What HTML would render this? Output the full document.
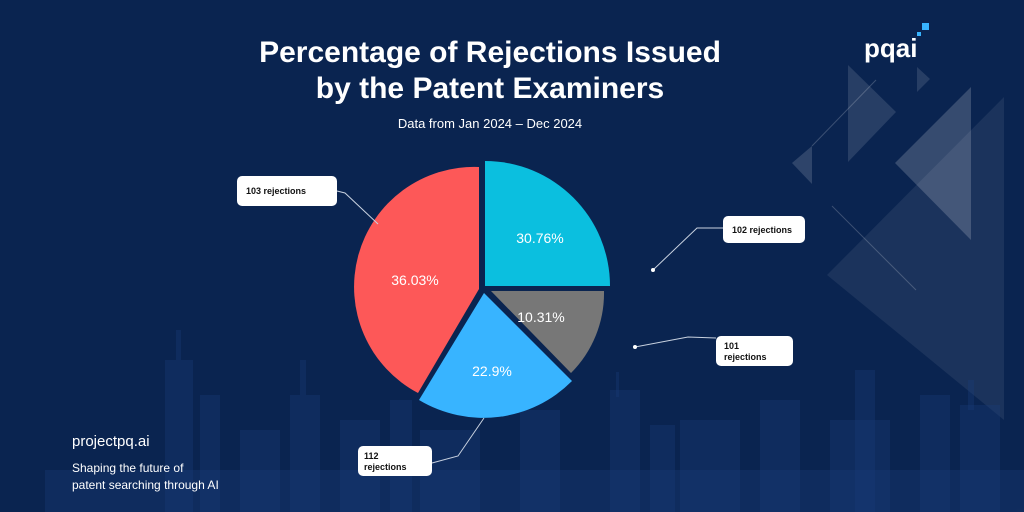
<!DOCTYPE html>
<html><head><meta charset="utf-8"><style>
body{margin:0;width:1024px;height:512px;overflow:hidden;background:#0a2450;font-family:"Liberation Sans",sans-serif;}
</style></head><body>
<svg width="1024" height="512" viewBox="0 0 1024 512" xmlns="http://www.w3.org/2000/svg" style="position:absolute;left:0;top:0">
<rect width="1024" height="512" fill="#0a2450"/>
<!-- background triangles -->
<g fill="#ffffff">
<polygon points="848,65 896,112 848,162" fill-opacity="0.12"/>
<polygon points="917,67 930,79 917,92" fill-opacity="0.12"/>
<polygon points="792,163 812,146 812,184" fill-opacity="0.15"/>
<polygon points="971,87 971,240 895,163" fill-opacity="0.18"/>
<polygon points="1004,97 1004,420 827,275" fill-opacity="0.07"/>
</g>
<line x1="812" y1="146" x2="876" y2="80" stroke="#ffffff" stroke-opacity="0.2"/>
<line x1="832" y1="206" x2="916" y2="290" stroke="#ffffff" stroke-opacity="0.2"/>
<!-- skyline -->
<g fill="#1a3d78" fill-opacity="0.35">
<rect x="45" y="470" width="980" height="42"/>
<rect x="165" y="360" width="28" height="152"/><rect x="176" y="330" width="5" height="30"/>
<rect x="200" y="395" width="20" height="117"/>
<rect x="240" y="430" width="40" height="82"/><rect x="290" y="395" width="30" height="117"/><rect x="300" y="360" width="6" height="35"/>
<rect x="340" y="420" width="40" height="92"/><rect x="390" y="400" width="22" height="112"/>
<rect x="420" y="430" width="60" height="82"/><rect x="520" y="410" width="40" height="102"/>
<rect x="610" y="390" width="30" height="122"/><rect x="616" y="372" width="3" height="25"/>
<rect x="650" y="425" width="25" height="87"/>
<rect x="680" y="420" width="60" height="92"/><rect x="760" y="400" width="40" height="112"/>
<rect x="830" y="420" width="60" height="92"/><rect x="855" y="370" width="20" height="142"/>
<rect x="920" y="395" width="30" height="117"/><rect x="960" y="405" width="40" height="107"/><rect x="968" y="380" width="6" height="30"/>
</g>
<!-- pie -->
<path d="M485,286 L485,161 A125,125 0 0 1 610,286 Z" fill="#0bbfdf"/>
<path d="M491,291 L604,291 A113,113 0 0 1 571,373 Z" fill="#777777"/>
<path d="M484,293 L572,381 A125,125 0 0 1 419,400 Z" fill="#38b4ff"/>
<path d="M479,289 L418,393 A120,120 0 0 1 479,167 Z" fill="#fd5858"/>
<g fill="#fff" font-size="14" text-anchor="middle">
<text x="540" y="243">30.76%</text>
<text x="415" y="285">36.03%</text>
<text x="541" y="322">10.31%</text>
<text x="492" y="376">22.9%</text>
</g>
<!-- leaders -->
<g stroke="#c9d2e0" stroke-width="1" fill="none">
<polyline points="337,191 345,193 378,224"/>
<polyline points="653,270 697,228 723,228"/>
<polyline points="635,347 688,337 716,338"/>
<polyline points="432,463 458,456 484,418"/>
</g>
<circle cx="653" cy="270" r="2" fill="#fff"/><circle cx="635" cy="347" r="2" fill="#fff"/>
<g fill="#fff"><rect x="237" y="176" width="100" height="30" rx="5"/>
<rect x="723" y="216" width="82" height="27" rx="5"/>
<rect x="716" y="336" width="77" height="30" rx="5"/>
<rect x="358" y="446" width="74" height="30" rx="5"/></g>
<g fill="#111" font-size="9" font-weight="bold">
<text x="246" y="194">103 rejections</text>
<text x="732" y="233">102 rejections</text>
<text x="724" y="349">101</text><text x="724" y="360">rejections</text>
<text x="364" y="459">112</text><text x="364" y="470">rejections</text>
</g>
<!-- title -->
<g fill="#fff" font-weight="bold" font-size="30" text-anchor="middle">
<text x="490" y="62">Percentage of Rejections Issued</text>
<text x="490" y="98">by the Patent Examiners</text>
</g>
<text x="490" y="128" fill="#fff" font-size="13" text-anchor="middle">Data from Jan 2024 – Dec 2024</text>
<text x="864" y="57" fill="#fff" font-size="26" font-weight="bold">pqai</text>
<rect x="922" y="23" width="7" height="7" fill="#38b4ff"/><rect x="917" y="32" width="4" height="4" fill="#38b4ff"/>
<text x="72" y="446" fill="#fff" font-size="15">projectpq.ai</text>
<text x="72" y="472" fill="#fff" font-size="12">Shaping the future of</text>
<text x="72" y="489" fill="#fff" font-size="12">patent searching through AI</text>
</svg>
</body></html>
